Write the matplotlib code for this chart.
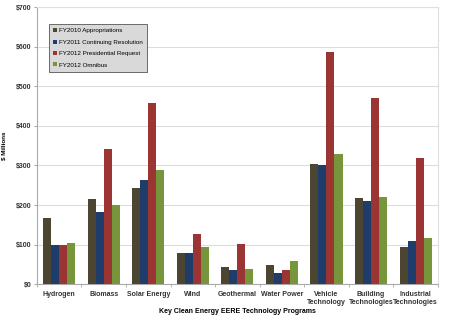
import numpy as np
import matplotlib
matplotlib.use('Agg')
import matplotlib.pyplot as plt

programs = ['Hydrogen', 'Biomass', 'Solar Energy', 'Wind', 'Geothermal', 'Water Power',
            'Vehicle\nTechnology', 'Building\nTechnologies', 'Industrial\nTechnologies']
series_names = ['FY2010 Appropriations', 'FY2011 Continuing Resolution',
                'FY2012 Presidential Request', 'FY2012 Omnibus']
fy2010 = [168, 215, 243, 79, 43, 48, 304, 219, 93]
fy2011 = [98, 183, 263, 80, 37, 29, 300, 210, 108]
fy2012_request = [100, 341, 457, 126, 102, 37, 587, 471, 320]
fy2012_omnibus = [104, 200, 289, 93, 38, 59, 330, 221, 116]
colors = ['#4b4531', '#1f3d6b', '#9a3533', '#77963b']

plt.rcParams['font.family'] = ['Liberation Sans', 'DejaVu Sans']
fig = plt.figure(figsize=(4.5, 3.23), dpi=100)
ax = fig.add_axes([0.082, 0.12, 0.891, 0.858])

x = np.arange(len(programs))
w = 0.18
data = [fy2010, fy2011, fy2012_request, fy2012_omnibus]
for i, vals in enumerate(data):
    ax.bar(x + (i - 1.5) * w, vals, w, color=colors[i], label=series_names[i], zorder=3)

ax.set_xlim(-0.5, len(programs) - 0.5)
ax.set_ylim(0, 700)
ax.set_yticks(range(0, 701, 100))
ax.set_yticklabels(['$%d' % v for v in range(0, 701, 100)], fontsize=5, fontweight='bold', color='#333333')
ax.set_xticks(x)
ax.set_xticklabels(programs, fontsize=5, fontweight='bold', color='#333333', linespacing=1.1)
ax.set_xticks(np.arange(-0.5, len(programs), 1), minor=True)
ax.tick_params(axis='x', which='major', length=0, pad=5)
ax.tick_params(axis='x', which='minor', length=2, color='#aaaaaa')
ax.tick_params(axis='y', length=2, color='#aaaaaa', pad=2)
ax.grid(axis='y', color='#dddddd', linewidth=0.8, zorder=0)
for s in ['top', 'right']:
    ax.spines[s].set_color('#e0e0e0')
for s in ['left', 'bottom']:
    ax.spines[s].set_color('#aaaaaa')
ax.set_ylabel('$ Millions', fontsize=4.5, fontweight='bold', labelpad=7)
ax.set_xlabel('Key Clean Energy EERE Technology Programs', fontsize=5, fontweight='bold', labelpad=2)

leg = ax.legend(loc='upper left', bbox_to_anchor=(0.03, 0.94), fontsize=4.5, frameon=True,
                fancybox=False, handlelength=0.6, handleheight=0.6, handletextpad=0.3,
                labelspacing=1.0, borderpad=0.7, borderaxespad=0)
leg.get_frame().set_facecolor('#d9d9d9')
leg.get_frame().set_edgecolor('#555555')
leg.get_frame().set_linewidth(0.6)
leg.get_frame().set_alpha(1)

fig.savefig('out.png', dpi=100)
